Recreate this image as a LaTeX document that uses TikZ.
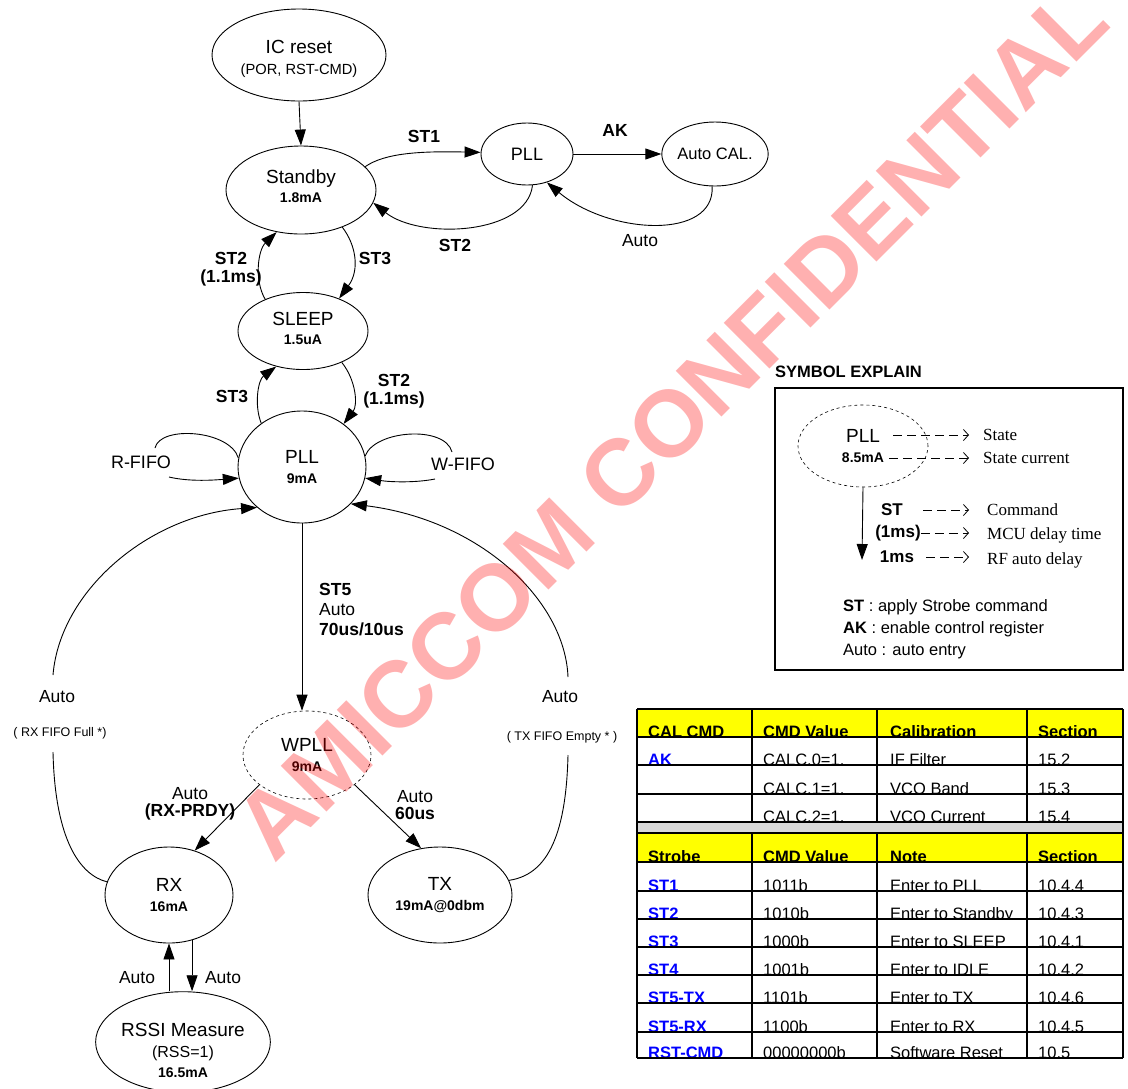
\documentclass[tikz,border=0pt]{standalone}
\usepackage{fontspec}
\setmainfont{Liberation Sans}
\newfontfamily\tmsfont{Liberation Serif}
\usetikzlibrary{arrows.meta,shapes.geometric}
\definecolor{cyellow}{RGB}{255,255,0}
\definecolor{cgrey}{RGB}{217,217,217}
\definecolor{cblue}{RGB}{0,0,255}
\newcommand{\fs}[1]{\fontsize{#1}{#1}\selectfont}
\newcommand{\bluecmd}[1]{{\color{cblue}\bfseries #1}}
\newcommand{\tabrow}[7]{%
  \begin{scope}
    \clip (637,#2) rectangle (1123,#3);
    \node[tcell] (#1a) at (648,#3) {#4};
    \node[tcell] (#1b) at (763,#3) {#5};
    \node[tcell] (#1c) at (890,#3) {#6};
    \node[tcell] (#1d) at (1038,#3) {#7};
  \end{scope}}
\begin{document}
\begin{tikzpicture}[x=1pt,y=-1pt,
  st/.style={draw,ellipse,inner sep=0pt,line width=0.9pt,align=center,font=\fs{19}},
  con/.style={line width=0.9pt},
  arr/.style={con,-{Triangle[length=16pt,width=11pt]}},
  bl/.style={font=\fs{17.5}\bfseries,inner sep=1pt,align=center},
  pl/.style={font=\fs{17.5},inner sep=1pt,align=center},
  sm/.style={font=\fs{12.5},inner sep=1pt},
  tcell/.style={anchor=base west,inner sep=0pt,font=\fs{16.5}},
  tline/.style={line width=1.8pt},
  darr/.style={line width=0.8pt,dash pattern=on 9pt off 5pt,-{Straight Barb[length=5pt,width=11pt]}},
  tms/.style={anchor=west,inner sep=0pt,font=\tmsfont\fs{17}},
  sb/.style={font=\fs{17}\bfseries,inner sep=0pt}]
\useasboundingbox (0,0) rectangle (1128,1088);

% ---------- states ----------
\node[st,minimum width=174,minimum height=92] (icreset) at (299,55) {\rule{0pt}{22pt}IC reset\\[2pt]{\fs{14.7}(POR, RST-CMD)}};
\node[st,minimum width=150,minimum height=88] (standby) at (301,190) {Standby\\{\fs{14}\bfseries 1.8mA\rule[-8pt]{0pt}{1pt}}};
\node[st,minimum width=92,minimum height=62,font=\fs{18}] (pllA) at (527,154) {PLL};
\node[st,minimum width=94,minimum height=64,font=\fs{16.5}] (autocal) at (715,154) {Auto CAL.};
\node[st,minimum width=130,minimum height=77] (sleep) at (303,331) {SLEEP\\{\fs{14}\bfseries 1.5uA\rule[-5pt]{0pt}{1pt}}};
\node[st,minimum width=128,minimum height=112] (pll) at (302,467) {PLL\\[1pt]{\fs{14}\bfseries 9mA}};
\node[st,dashed,line width=0.6pt,minimum width=128,minimum height=88] (wpll) at (307,755) {WPLL\\[1pt]{\fs{14}\bfseries 9mA}};
\node[st,minimum width=128,minimum height=96] (rx) at (169,895) {RX\\[1pt]{\fs{14}\bfseries 16mA}};
\node[st,minimum width=144,minimum height=96] (tx) at (440,895) {TX\\[1pt]{\fs{14}\bfseries 19mA@0dbm}};
\node[st,minimum width=150,minimum height=92] (rssi) at (183,1042) {\rule{0pt}{30pt}RSSI Measure\\[2pt]{\fs{16}(RSS=1)}\\[1pt]{\fs{14}\bfseries 16.5mA}};

% ---------- labels ----------
\node[bl] (lST1) at (424,136) {ST1};
\node[bl] (lAK) at (615,130) {AK};
\node[bl] (lST2a) at (455,245) {ST2};
\node[pl] (lAutoA) at (640,241) {Auto};
\node[bl] (lST2b) at (231,269) {ST2\\(1.1ms)};
\node[bl] (lST3a) at (375,258) {ST3};
\node[bl] (lST3b) at (232,396) {ST3};
\node[bl] (lST2c) at (394,391) {ST2\\(1.1ms)};
\node[pl,font=\fs{18}] (rfifo) at (141,462) {R-FIFO};
\node[pl,font=\fs{18}] (wfifo) at (463,464) {W-FIFO};
\node[pl,anchor=north west,align=left] (lST5) at (318,582) {{\bfseries ST5}\\[2.5pt]Auto\\[2.5pt]{\bfseries 70us/10us}};
\node[pl] (lAutoL) at (57,697) {Auto};
\node[sm] (lRXF) at (60,733) {( RX FIFO Full *)};
\node[pl] (lAutoR) at (560,697) {Auto};
\node[sm] (lTXF) at (562,737) {( TX FIFO Empty * )};
\node[pl] (lRXP) at (190,804) {Auto\\{\bfseries (RX-PRDY)}};
\node[pl] (lTX60) at (415,805) {Auto\\{\bfseries 60us}};
\node[pl] (lAutoU) at (137,978) {Auto};
\node[pl] (lAutoD) at (223,978) {Auto};

% ---------- free ends ----------
\coordinate (rf1) at (155,448);
\coordinate (rf2) at (169,477);
\coordinate (wf1) at (452,452);
\coordinate (wf2) at (435,479);
\coordinate (la1) at (53,752);
\coordinate (la2) at (53,675);
\coordinate (ra1) at (568,755);
\coordinate (ra2) at (568,677);

% ---------- connectors ----------
\draw[arr] (icreset.south) -- (standby.north);
\draw[arr] (standby.20) .. controls (385,153) and (420,151) .. (pllA.178);
\draw[arr] (pllA.east) -- (autocal.west);
\draw[arr] (pllA.280) .. controls (527,235) and (420,240) .. (standby.350);
\draw[arr] (autocal.265) .. controls (715,240) and (610,235) .. (pllA.305);
\draw[arr] (standby.318) .. controls (356,245) and (360,270) .. (sleep.42);
\draw[arr] (sleep.140) .. controls (254,280) and (258,250) .. (standby.240);
\draw[arr] (pll.133) .. controls (254,405) and (258,380) .. (sleep.233);
\draw[arr] (sleep.321) .. controls (356,380) and (358,405) .. (pll.46);
\draw[con] (pll.172) .. controls (230,430) and (160,425) .. (rf1);
\draw[arr] (rf2) .. controls (190,482) and (215,480) .. (pll.190);
\draw[con] (pll.10) .. controls (375,430) and (445,425) .. (wf1);
\draw[arr] (wf2) .. controls (415,483) and (390,482) .. (pll.350);
\draw[arr] (pll.south) -- (pll.south |- wpll.north);
\draw[arr] (wpll.212) -- (rx.60);
\draw[arr] (wpll.328) -- (tx.112);
\draw[con] (rx.168) .. controls (80,875) and (55,840) .. (la1);
\draw[arr] (la2) .. controls (60,590) and (150,515) .. (pll.222);
\draw[con] (tx.12) .. controls (545,875) and (566,840) .. (ra1);
\draw[arr] (ra2) .. controls (565,600) and (480,520) .. (pll.323);
\draw[arr] (rx.south |- rssi.north) -- (rx.south);
\draw[arr] (rx.297) -- (rx.297 |- rssi.north);

% ---------- symbol explain ----------
\node[font=\fs{16.5}\bfseries,anchor=west,inner sep=0pt] (symtitle) at (775,372) {SYMBOL EXPLAIN};
\draw[line width=1.2pt] (775,388) rectangle (1123,670);
\node[st,dashed,line width=0.6pt,minimum width=130,minimum height=82] (sym) at (863,446) {PLL\\[1pt]{\fs{14}\bfseries 8.5mA}};
\node[tms] (sState) at (983,435) {State};
\node[tms] (sCur) at (983,458) {State current};
\node[sb] (sST) at (892,510) {ST};
\node[sb] (s1a) at (898,533) {(1ms)};
\node[sb] (s1b) at (897,557) {1ms};
\node[tms] (sCmd) at (987,510) {Command};
\node[tms] (sMCU) at (987,535) {MCU delay time};
\node[tms] (sRF) at (987,560) {RF auto delay};
\coordinate (d1) at (893,435);
\coordinate (d2) at (889,458);
\coordinate (sEnd) at (862,560);
\draw[darr] (d1) -- (sState.west -| 969,0);
\draw[darr] (d2) -- (sCur.west -| 969,0);
\draw[darr] (sST.east) ++(20,0) -- (969,510);
\draw[darr] (s1a.east) -- (969,533);
\draw[darr] (s1b.east) ++(12,0) -- (969,557);
\draw[con,-{Triangle[length=16pt,width=11pt]}] (sym.south) -- (sEnd);
\node[anchor=west,inner sep=0pt,font=\fs{16.5}] (sL1) at (843,607) {{\bfseries ST} : apply Strobe command};
\node[anchor=west,inner sep=0pt,font=\fs{16.5}] (sL2) at (843,629) {{\bfseries AK} : enable control register};
\node[anchor=west,inner sep=0pt,font=\fs{16.5}] (sL3) at (843,652) {Auto : auto entry};

% ---------- table ----------
\fill[cyellow] (637,709) rectangle (1123,737);
\fill[cgrey] (637,822) rectangle (1123,833);
\fill[cyellow] (637,833) rectangle (1123,862);
\tabrow{h1}{709}{737}{\bfseries CAL CMD}{\bfseries CMD Value}{\bfseries Calibration}{\bfseries Section}
\tabrow{r1}{737}{765}{\bluecmd{AK}}{CALC.0=1.}{IF Filter}{15.2}
\tabrow{r2}{765}{794}{}{CALC.1=1.}{VCO Band}{15.3}
\tabrow{r3}{794}{822}{}{CALC.2=1.}{VCO Current}{15.4}
\tabrow{h2}{833}{862}{\bfseries Strobe}{\bfseries CMD Value}{\bfseries Note}{\bfseries Section}
\tabrow{s1}{862}{891}{\bluecmd{ST1}}{1011b}{Enter to PLL}{10.4.4}
\tabrow{s2}{891}{919}{\bluecmd{ST2}}{1010b}{Enter to Standby}{10.4.3}
\tabrow{s3}{919}{947}{\bluecmd{ST3}}{1000b}{Enter to SLEEP}{10.4.1}
\tabrow{s4}{947}{975}{\bluecmd{ST4}}{1001b}{Enter to IDLE}{10.4.2}
\tabrow{s5}{975}{1003}{\bluecmd{ST5-TX}}{1101b}{Enter to TX}{10.4.6}
\tabrow{s6}{1003}{1032}{\bluecmd{ST5-RX}}{1100b}{Enter to RX}{10.4.5}
\tabrow{s7}{1032}{1058}{\bluecmd{RST-CMD}}{00000000b}{Software Reset}{10.5}
\foreach \yy in {709,737,765,794,822,833,862,891,919,947,975,1003,1032,1058}
  \draw[tline] (637,\yy) -- (1123,\yy);
\draw[tline] (637,709) -- (637,1058);
\draw[tline] (1123,709) -- (1123,1058);
\foreach \xx in {752,877,1027} {
  \draw[tline] (\xx,709) -- (\xx,822);
  \draw[tline] (\xx,833) -- (\xx,1058);
}

% ---------- watermark ----------
\node[rotate=45,anchor=base,text=red,opacity=0.31,inner sep=0pt,font=\fs{94}\bfseries] (wm) at (694,445) {AMICCOM CONFIDENTIAL};
\end{tikzpicture}
\end{document}
